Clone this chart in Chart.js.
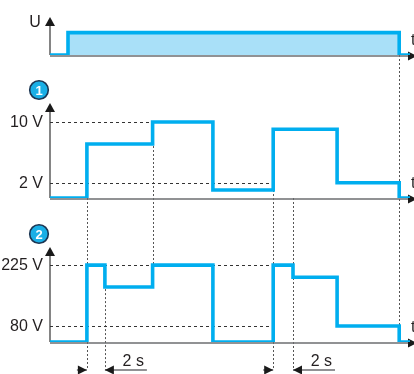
<!DOCTYPE html>
<html>
<head>
<meta charset="utf-8">
<script src="https://cdn.jsdelivr.net/npm/chart.js@4.4.0/dist/chart.umd.min.js"></script>
<style>
html, body { margin: 0; padding: 0; background: #fff; }
#wrap { position: relative; width: 414px; height: 374px; overflow: hidden; }
#wrap canvas { position: absolute; left: 0; top: 0; }
</style>
</head>
<body>
<div id="wrap">
  <canvas id="supplyChart" width="414" height="374"></canvas>
  <canvas id="out1Chart" width="414" height="374"></canvas>
  <canvas id="out2Chart" width="414" height="374"></canvas>
</div>
<script>
// --- 資料 (時間單位：秒) ---
const TIME_MAX = 40;

// 電源 U
const supplyTimes = [0, 2, 38.8, 40];
const supplyLevels = [0, 1, 0, 0];

// 輸出 1 (V)
const out1Times = [0, 4.1, 11.4, 18.1, 24.8, 31.9, 38.8, 40];
const out1Volts = [0, 7.1, 10, 1.05, 9.05, 2, 0, 0];
const out1Ticks = [10, 2];
const out1TickLabels = ['10 V', '2 V'];
const out1TickUntil = [11.4, 24.8];

// 輸出 2 (V)，最低值即為圖中基線
const out2Times = [0, 4.1, 6.1, 11.4, 18.1, 24.8, 27, 31.9, 38.8, 40];
const out2Volts = [42, 225, 173, 225, 42, 225, 196, 80, 42, 42];
const out2Ticks = [225, 80];
const out2TickLabels = ['225 V', '80 V'];
const out2TickUntil = [24.8, 24.8];

// 延遲標註 "2 s"
const delayStarts = [4.1, 24.8];
const delayEnds = [6.1, 27];
const delayLabel = '2 s';

// 垂直虛線 (時間, 起點, 終點)
const guideTimes = [4.1, 6.1, 11.4, 24.8, 27, 38.8];
const guideFrom = [['out1', 0], ['out2', 225], ['out1', 10], ['out1', 1.05], ['out1', 0], ['supply', 0]];
const guideTo = [['arrows'], ['arrows'], ['out2', 225], ['arrows'], ['arrows'], ['out2', 80]];

// --- 樣式 ---
const SIGNAL_COLOR = '#00AEEF';
const FILL_COLOR = '#A9E0F8';
const TEXT_COLOR = '#231F20';
const FONT = '16px "Liberation Sans", Arial, sans-serif';
const ARROW_Y = 370;

const charts = {};

function toPoints(times, values) {
    return times.map((t, i) => ({ x: t, y: values[i] }));
}

function arrowUp(ctx, x, tipY) {
    ctx.beginPath();
    ctx.moveTo(x, tipY);
    ctx.lineTo(x - 5, tipY + 9);
    ctx.lineTo(x + 5, tipY + 9);
    ctx.closePath();
    ctx.fill();
}

function arrowHoriz(ctx, tipX, y, dir) {
    ctx.beginPath();
    ctx.moveTo(tipX, y);
    ctx.lineTo(tipX - dir * 9, y - 4.5);
    ctx.lineTo(tipX - dir * 9, y + 4.5);
    ctx.closePath();
    ctx.fill();
}

// 每個面板的軸、參考線、標籤
function makePanelPlugin(cfg) {
    return {
        id: 'panel_' + cfg.name,
        beforeDatasetsDraw(chart) {
            const { ctx, chartArea: a, scales: { x, y } } = chart;
            const yBase = y.getPixelForValue(y.min);
            ctx.save();

            if (cfg.name === 'supply') drawGuides(chart);

            // 參考虛線
            ctx.setLineDash([3, 3]);
            ctx.strokeStyle = '#333';
            ctx.lineWidth = 1;
            (cfg.ticks || []).forEach((v, i) => {
                const py = Math.round(y.getPixelForValue(v)) + 0.5;
                ctx.beginPath();
                ctx.moveTo(a.left, py);
                ctx.lineTo(x.getPixelForValue(cfg.until[i]), py);
                ctx.stroke();
            });
            ctx.setLineDash([]);

            // 基線
            ctx.strokeStyle = '#6d6e71';
            ctx.lineWidth = 1.5;
            ctx.beginPath();
            ctx.moveTo(a.left, yBase + 1);
            ctx.lineTo(a.right - 2, yBase + 1);
            ctx.stroke();

            // Y 軸
            ctx.strokeStyle = '#333';
            ctx.lineWidth = 1.2;
            ctx.beginPath();
            ctx.moveTo(a.left, yBase);
            ctx.lineTo(a.left, a.top + 8);
            ctx.stroke();
            ctx.fillStyle = '#1a1a1a';
            arrowUp(ctx, a.left, a.top);
            arrowHoriz(ctx, a.right + 7, yBase + 1, 1);

            // 文字
            ctx.font = FONT;
            ctx.fillStyle = TEXT_COLOR;
            ctx.textBaseline = 'middle';
            ctx.textAlign = 'right';
            (cfg.labels || []).forEach((lab, i) => {
                ctx.fillText(lab, a.left - 7, y.getPixelForValue(cfg.ticks[i]) + 1);
            });
            ctx.textAlign = 'left';
            ctx.textBaseline = 'alphabetic';
            ctx.fillText('t', a.right + 1, yBase - 10);

            if (cfg.axisTitle) {
                ctx.textAlign = 'center';
                ctx.textBaseline = 'middle';
                ctx.fillText(cfg.axisTitle, a.left - 15, a.top + 6);
            }
            if (cfg.badge) {
                const cx = a.left - 11, cy = a.top - 13;
                ctx.beginPath();
                ctx.arc(cx, cy, 9.3, 0, Math.PI * 2);
                ctx.fillStyle = '#1AAFE6';
                ctx.fill();
                ctx.lineWidth = 1.6;
                ctx.strokeStyle = '#1b3552';
                ctx.stroke();
                ctx.fillStyle = '#fff';
                ctx.font = 'bold 13px "Liberation Sans", Arial, sans-serif';
                ctx.textAlign = 'center';
                ctx.textBaseline = 'middle';
                ctx.fillText(cfg.badge, cx, cy + 1);
            }

            if (cfg.name === 'out2') drawDelays(chart);
            ctx.restore();
        }
    };
}

function yOf(chart, ref) {
    if (ref[0] === 'arrows') return ARROW_Y;
    const c = ref[0] === 'supply' ? chart : charts[ref[0]];
    return c.scales.y.getPixelForValue(ref[1]);
}

function drawGuides(chart) {
    const { ctx, scales: { x } } = chart;
    ctx.save();
    ctx.setLineDash([2, 2]);
    ctx.strokeStyle = '#555';
    ctx.lineWidth = 1;
    guideTimes.forEach((t, i) => {
        const px = Math.round(x.getPixelForValue(t)) + 0.5;
        ctx.beginPath();
        ctx.moveTo(px, yOf(chart, guideFrom[i]));
        ctx.lineTo(px, yOf(chart, guideTo[i]));
        ctx.stroke();
    });
    ctx.restore();
}

function drawDelays(chart) {
    const { ctx, scales: { x } } = chart;
    ctx.save();
    ctx.strokeStyle = '#6d6e71';
    ctx.fillStyle = '#1a1a1a';
    ctx.lineWidth = 1.5;
    delayStarts.forEach((t0, i) => {
        const x0 = x.getPixelForValue(t0);
        const x1 = x.getPixelForValue(delayEnds[i]);
        ctx.beginPath();
        ctx.moveTo(x0 - 10, ARROW_Y);
        ctx.lineTo(x0, ARROW_Y);
        ctx.moveTo(x1, ARROW_Y);
        ctx.lineTo(x1 + 42, ARROW_Y);
        ctx.stroke();
        arrowHoriz(ctx, x0, ARROW_Y, 1);
        arrowHoriz(ctx, x1, ARROW_Y, -1);
        ctx.fillStyle = TEXT_COLOR;
        ctx.font = FONT;
        ctx.textAlign = 'right';
        ctx.textBaseline = 'alphabetic';
        ctx.fillText(delayLabel, x1 + 39, ARROW_Y - 4);
        ctx.fillStyle = '#1a1a1a';
    });
    ctx.restore();
}

function makeChart(id, cfg) {
    return new Chart(document.getElementById(id), {
        type: 'line',
        data: {
            datasets: [{
                data: toPoints(cfg.times, cfg.values),
                stepped: 'before',
                borderColor: SIGNAL_COLOR,
                borderWidth: 3.6,
                borderJoinStyle: 'miter',
                borderCapStyle: 'butt',
                pointRadius: 0,
                fill: cfg.fill ? 'origin' : false,
                backgroundColor: FILL_COLOR
            }]
        },
        options: {
            responsive: false,
            animation: false,
            events: [],
            layout: { padding: { left: 50, right: 4, top: cfg.top, bottom: 374 - cfg.bottom } },
            scales: {
                x: { type: 'linear', min: 0, max: TIME_MAX, display: false },
                y: { type: 'linear', min: cfg.min, max: cfg.max, display: false }
            },
            plugins: { legend: { display: false }, tooltip: { enabled: false } }
        },
        plugins: [makePanelPlugin(cfg)]
    });
}

charts.out1 = makeChart('out1Chart', {
    name: 'out1', times: out1Times, values: out1Volts, min: 0, max: 12.5,
    top: 103, bottom: 198, ticks: out1Ticks, labels: out1TickLabels, until: out1TickUntil, badge: '1'
});
charts.out2 = makeChart('out2Chart', {
    name: 'out2', times: out2Times, values: out2Volts, min: 42, max: 268,
    top: 247, bottom: 342, ticks: out2Ticks, labels: out2TickLabels, until: out2TickUntil, badge: '2'
});
charts.supply = makeChart('supplyChart', {
    name: 'supply', times: supplyTimes, values: supplyLevels, min: 0, max: 1.7,
    top: 17, bottom: 55, axisTitle: 'U', fill: true
});
</script>
</body>
</html>
